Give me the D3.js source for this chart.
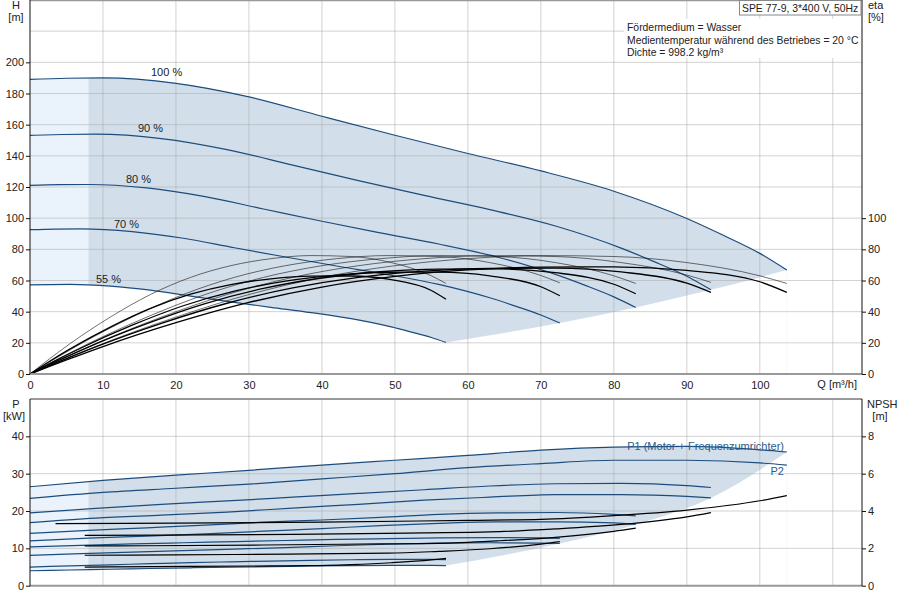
<!DOCTYPE html>
<html>
<head>
<meta charset="utf-8">
<script src="https://cdn.jsdelivr.net/npm/d3@7"></script>
<style>
  body { margin: 0; background: #fff; }
  svg text { font-family: "Liberation Sans", Arial, sans-serif; font-size: 11px; fill: #222; }
  svg text.info { font-size: 10.4px; }
</style>
</head>
<body>
<svg id="pump-chart" width="900" height="600"></svg>
<script>
// ---- data ----
var qGrid = [10, 20, 30, 40, 50, 60, 70, 80, 90, 100, 110];
var qTicks = [0, 10, 20, 30, 40, 50, 60, 70, 80, 90, 100];
var hTicks = [0, 20, 40, 60, 80, 100, 120, 140, 160, 180, 200];
var etaTicks = [0, 20, 40, 60, 80, 100];
var pTicks = [0, 10, 20, 30, 40];
var npshTicks = [0, 2, 4, 6, 8];

var speedLabels = ["100 %", "90 %", "80 %", "70 %", "55 %"];

// head curves H [m] over Q [m3/h]
var h100Q = [0, 5, 10, 20, 30, 40, 50, 60, 70, 80, 90, 95, 100, 103.7];
var h100H = [189, 189.8, 190, 186.5, 177.8, 165.4, 153.2, 141.5, 130.3, 117.3, 99.8, 89, 77.4, 66.7];
var h90Q = [0, 4.5, 9, 18, 27, 36, 45, 54, 63, 72, 81, 85.5, 90, 93.3];
var h90H = [153.1, 153.7, 153.9, 151.1, 144.0, 134.0, 124.1, 114.6, 105.5, 95.0, 80.8, 72.1, 62.7, 54.0];
var h80Q = [0, 4, 8, 16, 24, 32, 40, 48, 56, 64, 72, 76, 80, 83];
var h80H = [121.0, 121.5, 121.6, 119.4, 113.8, 105.9, 98.0, 90.6, 83.4, 75.1, 63.9, 57.0, 49.5, 42.7];
var h70Q = [0, 3.5, 7, 14, 21, 28, 35, 42, 49, 56, 63, 66.5, 70, 72.6];
var h70H = [92.6, 93.0, 93.1, 91.4, 87.1, 81.0, 75.1, 69.3, 63.8, 57.5, 48.9, 43.6, 37.9, 32.7];
var h55Q = [0, 2.75, 5.5, 11, 16.5, 22, 27.5, 33, 38.5, 44, 49.5, 52.25, 55, 57];
var h55H = [57.2, 57.4, 57.5, 56.4, 53.8, 50.0, 46.3, 42.8, 39.4, 35.5, 30.2, 26.9, 23.4, 20.2];
// end points of the head curves (lower edge of the operating range)
var hEndQ = [57, 72.6, 83, 93.3, 103.7];
var hEndH = [20.2, 32.7, 42.7, 54.0, 66.7];

// efficiency curves eta [%]: thin = pump, thick = total
var e100Q = [0, 5, 10, 20, 30, 40, 50, 60, 70, 80, 90, 100, 103.7];
var e90Q = [0, 4.5, 9, 18, 27, 36, 45, 54, 63, 72, 81, 90, 93.3];
var e80Q = [0, 4, 8, 16, 24, 32, 40, 48, 56, 64, 72, 80, 83];
var e70Q = [0, 3.5, 7, 14, 21, 28, 35, 42, 49, 56, 63, 70, 72.6];
var e55Q = [0, 2.75, 5.5, 11, 16.5, 22, 27.5, 33, 38.5, 44, 49.5, 55, 57];
var etaPump100 = [0, 10, 19.5, 36.5, 51, 62, 69.5, 74, 76, 75.4, 71.5, 63, 58.1];
var etaPump90 = [0, 10, 19.5, 36.5, 51, 62, 69.5, 74, 76, 75.4, 71.5, 63.5, 58.8];
var etaPump80 = [0, 10, 19.5, 36.5, 51, 62, 69.5, 74, 76, 75.4, 71.5, 63, 58.1];
var etaPump70 = [0, 10, 19.5, 36.5, 51, 62, 69.5, 74, 76, 75.4, 71.5, 63.2, 58.5];
var etaPump55 = [0, 10, 19.5, 36.5, 51, 62, 69.5, 74, 76, 75.4, 71.5, 63, 58.1];
var etaTotal100 = [0, 9, 17.6, 32.9, 45.9, 55.8, 62.6, 66.8, 68.6, 68.8, 66.5, 59.2, 52.4];
var etaTotal90 = [0, 8.9, 17.4, 32.5, 45.4, 55.2, 62, 66, 67.8, 68, 65.5, 58.3, 52.4];
var etaTotal80 = [0, 8.9, 17.3, 32.3, 45.2, 54.9, 61.6, 65.6, 67.3, 67.4, 65, 57.6, 51.5];
var etaTotal70 = [0, 8.6, 16.7, 31.3, 43.8, 53.2, 59.6, 63.5, 65.3, 65.4, 63, 56, 50.2];
var etaTotal55 = [0, 8.3, 16.1, 30.1, 42.1, 51.2, 57.4, 61.1, 62.8, 62.9, 60.5, 53.6, 48];

// power curves P [kW]
var p100Q = [0, 10, 20, 30, 40, 50, 60, 70, 80, 90, 100, 103.7];
var p90Q = [0, 9, 18, 27, 36, 45, 54, 63, 72, 81, 90, 93.3];
var p80Q = [0, 8, 16, 24, 32, 40, 48, 56, 64, 72, 80, 83];
var p70Q = [0, 7, 14, 21, 28, 35, 42, 49, 56, 63, 70, 72.6];
var p55Q = [0, 5.5, 11, 16.5, 22, 27.5, 33, 38.5, 44, 49.5, 55, 57];
var p1_100 = [26.5, 28.2, 29.6, 30.9, 32.3, 33.6, 34.9, 36.3, 37.1, 37.3, 36.4, 35.8];
var p2_100 = [23.4, 25.0, 26.1, 27.2, 28.6, 30.0, 31.6, 32.7, 33.6, 33.6, 32.9, 32.3];
var p1_90 = [19.5, 20.7, 21.8, 22.7, 23.7, 24.7, 25.7, 26.7, 27.3, 27.4, 26.8, 26.3];
var p2_90 = [16.9, 18.1, 18.9, 19.7, 20.8, 21.8, 22.9, 23.7, 24.4, 24.4, 23.9, 23.5];
var p1_80 = [14.0, 14.8, 15.5, 16.2, 17.0, 17.6, 18.3, 19.1, 19.5, 19.6, 19.1, 18.7];
var p2_80 = [12.0, 12.75, 13.3, 13.9, 14.6, 15.3, 16.1, 16.7, 17.1, 17.1, 16.8, 16.4];
var p1_70 = [10.4, 10.8, 11.2, 11.5, 11.8, 12.1, 12.4, 12.6, 12.8, 12.9, 12.8, 12.7];
var p2_70 = [8.1, 8.6, 9.0, 9.4, 9.8, 10.2, 10.7, 11.1, 11.4, 11.5, 11.4, 11.3];
var p1_55 = [5.0, 5.3, 5.6, 5.9, 6.2, 6.4, 6.6, 6.8, 6.95, 7.05, 7.05, 7.0];
var p2_55 = [4.0, 4.2, 4.4, 4.6, 4.8, 5.0, 5.1, 5.3, 5.4, 5.45, 5.45, 5.4];
var pEndQ = [57, 72.6, 83, 93.3, 103.7];
var pEndP = [5.4, 11.3, 16.4, 23.5, 35.8];

// NPSH curves [m]
var n100Q = [3.5, 20, 40, 60, 70, 80, 90, 100, 103.7];
var n100 = [3.33, 3.35, 3.4, 3.5, 3.55, 3.75, 4.05, 4.55, 4.83];
var n90Q = [7.5, 18, 36, 54, 63, 72, 81, 90, 93.3];
var n90 = [2.7, 2.71, 2.75, 2.83, 2.88, 3.04, 3.28, 3.69, 3.92];
var n80Q = [7.5, 16, 32, 48, 56, 64, 72, 80, 83];
var n80 = [2.13, 2.14, 2.18, 2.24, 2.27, 2.4, 2.59, 2.91, 3.08];
var n70Q = [7.5, 14, 28, 42, 49, 56, 63, 70, 72.6];
var n70 = [1.63, 1.64, 1.67, 1.72, 1.74, 1.84, 1.98, 2.23, 2.36];
var n55Q = [7.5, 11, 22, 33, 38.5, 44, 49.5, 55, 57];
var n55 = [1.0, 1.01, 1.03, 1.06, 1.07, 1.13, 1.23, 1.38, 1.46];

var qMinRange = 8; // lighter band below this flow

// ---- drawing ----
var svg = d3.select("#pump-chart");

var x = d3.scaleLinear().domain([0, 114]).range([30, 862]);
var yH = d3.scaleLinear().domain([0, 240]).range([374, 0]);
var yP = d3.scaleLinear().domain([0, 50]).range([585.7, 399]);
var yN = d3.scaleLinear().domain([0, 10]).range([585.7, 399]);

function pts(qs, vs) {
  return qs.map(function(q, i) { return [q, vs[i]]; });
}

function lineFor(y) {
  return d3.line()
    .x(function(d) { return x(d[0]); })
    .y(function(d) { return y(d[1]); })
    .curve(d3.curveMonotoneX);
}

function areaFor(y) {
  return d3.area()
    .x(function(d) { return x(d[0]); })
    .y0(y(0))
    .y1(function(d) { return y(d[1]); })
    .curve(d3.curveMonotoneX);
}

var defs = svg.append("defs");

// operating range fill: under the top curve, above the lowest curve and the end-point line
function rangeFill(id, y, upper, lowest, ends, top, bottom) {
  var m = defs.append("mask").attr("id", id);
  m.append("path").attr("d", areaFor(y)(upper)).attr("fill", "#fff");
  m.append("path").attr("d", areaFor(y)(lowest)).attr("fill", "#000");
  m.append("path").attr("d", areaFor(y)(ends)).attr("fill", "#000");
  var g = svg.append("g").attr("mask", "url(#" + id + ")");
  g.append("rect")
    .attr("x", x(0)).attr("y", top)
    .attr("width", x(qMinRange) - x(0)).attr("height", bottom - top)
    .attr("fill", "#eaf3fb");
  g.append("rect")
    .attr("x", x(qMinRange)).attr("y", top)
    .attr("width", x(114) - x(qMinRange)).attr("height", bottom - top)
    .attr("fill", "#d2dfea");
}

rangeFill("top-range", yH, pts(h100Q, h100H), pts(h55Q, h55H), pts(hEndQ, hEndH), 0, 374);
rangeFill("bottom-range", yP, pts(p100Q, p1_100), pts(p55Q, p2_55), pts(pEndQ, pEndP), 399, 585.7);

// grid
var grid = svg.append("g")
  .attr("stroke", "#a8a8a8")
  .attr("stroke-opacity", 0.5)
  .attr("stroke-width", 1);

qGrid.forEach(function(q) {
  grid.append("line").attr("x1", x(q)).attr("x2", x(q)).attr("y1", 0).attr("y2", 374);
  grid.append("line").attr("x1", x(q)).attr("x2", x(q)).attr("y1", 399).attr("y2", 585.7);
});
yH.ticks(12).slice(1).forEach(function(h) {
  grid.append("line").attr("x1", x(0)).attr("x2", x(114)).attr("y1", yH(h)).attr("y2", yH(h));
});
[10, 20, 30, 40].forEach(function(p) {
  grid.append("line").attr("x1", x(0)).attr("x2", x(114)).attr("y1", yP(p)).attr("y2", yP(p));
});

// head curves
var headSets = [[h100Q, h100H], [h90Q, h90H], [h80Q, h80H], [h70Q, h70H], [h55Q, h55H]];
var headLine = lineFor(yH);
svg.append("g").selectAll("path")
  .data(headSets)
  .enter().append("path")
  .attr("d", function(d) { return headLine(pts(d[0], d[1])); })
  .attr("fill", "none")
  .attr("stroke", "#1d4c7c")
  .attr("stroke-width", 1.2);

var labelPos = [[151, 76], [138, 132], [126, 183], [114, 228], [96, 283]];
svg.append("g").selectAll("text")
  .data(speedLabels)
  .enter().append("text")
  .attr("x", function(d, i) { return labelPos[i][0]; })
  .attr("y", function(d, i) { return labelPos[i][1]; })
  .text(function(d) { return d; });

// efficiency curves
var etaLine = lineFor(yH);
var pumpSets = [[e100Q, etaPump100], [e90Q, etaPump90], [e80Q, etaPump80], [e70Q, etaPump70], [e55Q, etaPump55]];
var totalSets = [[e100Q, etaTotal100], [e90Q, etaTotal90], [e80Q, etaTotal80], [e70Q, etaTotal70], [e55Q, etaTotal55]];
svg.append("g").selectAll("path")
  .data(pumpSets)
  .enter().append("path")
  .attr("d", function(d) { return etaLine(pts(d[0], d[1])); })
  .attr("fill", "none")
  .attr("stroke", "#111")
  .attr("stroke-width", 0.6);
svg.append("g").selectAll("path")
  .data(totalSets)
  .enter().append("path")
  .attr("d", function(d) { return etaLine(pts(d[0], d[1])); })
  .attr("fill", "none")
  .attr("stroke", "#000")
  .attr("stroke-width", 1.3);

// power curves
var pLine = lineFor(yP);
var powerSets = [[p100Q, p1_100], [p100Q, p2_100], [p90Q, p1_90], [p90Q, p2_90], [p80Q, p1_80],
  [p80Q, p2_80], [p70Q, p1_70], [p70Q, p2_70], [p55Q, p1_55], [p55Q, p2_55]];
svg.append("g").selectAll("path")
  .data(powerSets)
  .enter().append("path")
  .attr("d", function(d) { return pLine(pts(d[0], d[1])); })
  .attr("fill", "none")
  .attr("stroke", "#1d4c7c")
  .attr("stroke-width", 1.2);

// NPSH curves
var nLine = lineFor(yN);
var npshSets = [[n100Q, n100], [n90Q, n90], [n80Q, n80], [n70Q, n70], [n55Q, n55]];
svg.append("g").selectAll("path")
  .data(npshSets)
  .enter().append("path")
  .attr("d", function(d) { return nLine(pts(d[0], d[1])); })
  .attr("fill", "none")
  .attr("stroke", "#000")
  .attr("stroke-width", 1.2);

svg.append("text").attr("x", 784).attr("y", 450).attr("text-anchor", "end")
  .style("fill", "#2c5a89").text("P1 (Motor + Frequenzumrichter)");
svg.append("text").attr("x", 784).attr("y", 475).attr("text-anchor", "end")
  .style("fill", "#2c5a89").text("P2");

// frames
var frame = svg.append("g");
frame.append("line").attr("x1", 30).attr("x2", 862).attr("y1", 0.5).attr("y2", 0.5)
  .attr("stroke", "#999").attr("stroke-width", 1.5);
frame.append("line").attr("x1", 30).attr("x2", 862).attr("y1", 374).attr("y2", 374)
  .attr("stroke", "#999").attr("stroke-width", 2);
frame.append("line").attr("x1", 30).attr("x2", 862).attr("y1", 399).attr("y2", 399)
  .attr("stroke", "#999").attr("stroke-width", 2);
frame.append("line").attr("x1", 30).attr("x2", 862).attr("y1", 585.7).attr("y2", 585.7)
  .attr("stroke", "#999").attr("stroke-width", 2);
[30, 862].forEach(function(px) {
  frame.append("line").attr("x1", px).attr("x2", px).attr("y1", 0).attr("y2", 374)
    .attr("stroke", "#111");
  frame.append("line").attr("x1", px).attr("x2", px).attr("y1", 399).attr("y2", 586)
    .attr("stroke", "#111");
});

// axes
function styleAxis(g) {
  g.select(".domain").remove();
  g.selectAll(".tick line").attr("stroke", "#111");
  g.selectAll(".tick text").attr("fill", "#222")
    .style("font-family", "'Liberation Sans', Arial, sans-serif").style("font-size", "11px");
}

svg.append("g").attr("transform", "translate(30,0)")
  .call(d3.axisLeft(yH).tickValues(hTicks).tickSize(4).tickPadding(2))
  .call(styleAxis);
svg.append("g").attr("transform", "translate(862,0)")
  .call(d3.axisRight(yH).tickValues(etaTicks).tickSize(4).tickPadding(2))
  .call(styleAxis);
svg.append("g").attr("transform", "translate(0,374)")
  .call(d3.axisBottom(x).tickValues(qTicks).tickSize(0).tickPadding(7))
  .call(styleAxis);
svg.append("g").attr("transform", "translate(30,0)")
  .call(d3.axisLeft(yP).tickValues(pTicks).tickSize(4).tickPadding(2))
  .call(styleAxis);
svg.append("g").attr("transform", "translate(862,0)")
  .call(d3.axisRight(yN).tickValues(npshTicks).tickSize(4).tickPadding(2))
  .call(styleAxis);

// axis titles
svg.append("text").attr("x", 16).attr("y", 9).attr("text-anchor", "middle").text("H");
svg.append("text").attr("x", 16).attr("y", 21).attr("text-anchor", "middle").text("[m]");
svg.append("text").attr("x", 868).attr("y", 9).text("eta");
svg.append("text").attr("x", 868).attr("y", 21).text("[%]");
svg.append("text").attr("x", 857).attr("y", 388).attr("text-anchor", "end").text("Q [m³/h]");
svg.append("text").attr("x", 16).attr("y", 408).attr("text-anchor", "middle").text("P");
svg.append("text").attr("x", 14).attr("y", 420).attr("text-anchor", "middle").text("[kW]");
svg.append("text").attr("x", 867).attr("y", 408).text("NPSH");
svg.append("text").attr("x", 880).attr("y", 420).attr("text-anchor", "middle").text("[m]");

// info texts
svg.append("rect").attr("x", 624).attr("y", 19).attr("width", 237).attr("height", 39).attr("fill", "#fff");
svg.append("rect").attr("x", 739.5).attr("y", 0.5).attr("width", 121.5).attr("height", 14.5)
  .attr("fill", "#fff").attr("stroke", "#888");
svg.append("text").attr("class", "info").attr("x", 742).attr("y", 12).text("SPE 77-9, 3*400 V, 50Hz");
var info = ["Fördermedium = Wasser", "Medientemperatur während des Betriebes = 20 °C", "Dichte = 998.2 kg/m³"];
svg.append("g").selectAll("text")
  .data(info)
  .enter().append("text")
  .attr("class", "info")
  .attr("x", 627)
  .attr("y", function(d, i) { return 31 + i * 12.5; })
  .text(function(d) { return d; });
</script>
</body>
</html>
